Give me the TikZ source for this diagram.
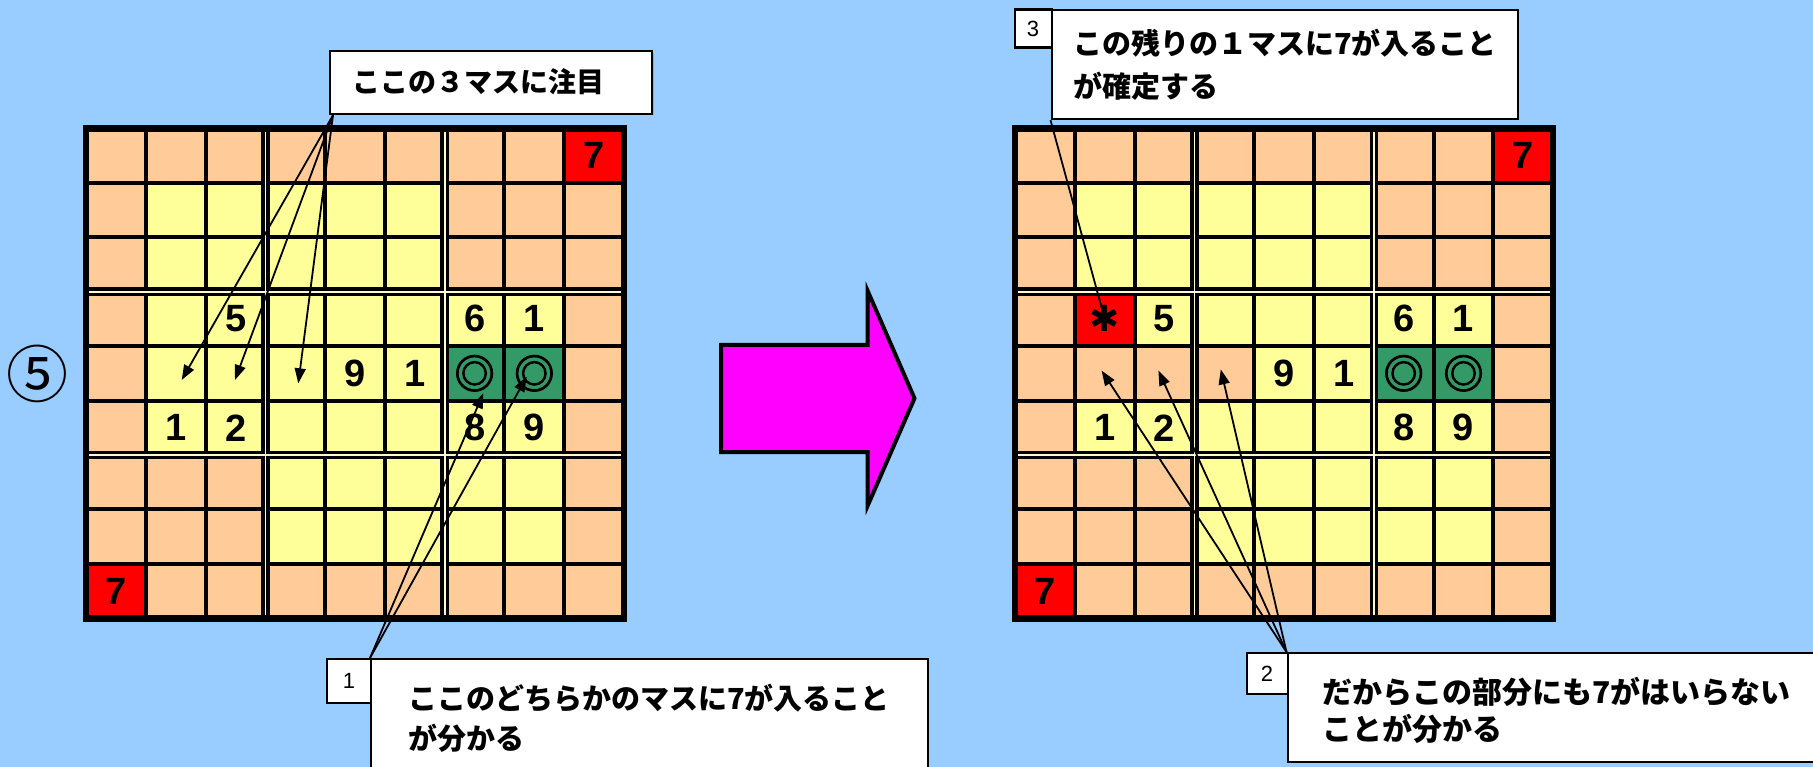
\documentclass[tikz,border=0pt]{standalone}
\usepackage{fontspec}
\usetikzlibrary{arrows.meta}
\newfontfamily\jpfont{Noto Sans CJK JP}
\newfontfamily\symfont{Noto Sans CJK JP}[FakeBold=3]
\newfontfamily\numfont{Liberation Sans}
\newfontfamily\dejafont{DejaVu Sans}
\definecolor{bgblue}{HTML}{99CCFF}
\definecolor{peach}{HTML}{FFCC99}
\definecolor{ylw}{HTML}{FFFF99}
\definecolor{redc}{HTML}{FF0000}
\definecolor{grn}{HTML}{339966}
\definecolor{mag}{HTML}{FF00FF}
\definecolor{sepc}{HTML}{FFF8D0}
\tikzset{
  thinl/.style={line width=4pt},
  sepk/.style={line width=8.5pt},
  sepl/.style={line width=1.8pt, draw=sepc},
  outerl/.style={line width=6.5pt, line join=miter},
  num/.style={font=\numfont\bfseries\fontsize{38pt}{38pt}\selectfont, inner sep=0pt},
  dbl/.style={font=\symfont\fontsize{40pt}{40pt}\selectfont, inner sep=0pt},
  callout/.style={draw=black, fill=white, line width=2.2pt, anchor=north west, inner sep=0pt},
  tagbox/.style={callout, font=\numfont\fontsize{22pt}{22pt}\selectfont},
  jptext/.style 2 args={font=\jpfont\bfseries\fontsize{#1}{#2}\selectfont, align=left, anchor=west, inner sep=0pt},
  pointer/.style={line width=1.8pt, -{Triangle[length=15pt,width=11pt]}},
  plainline/.style={line width=1.8pt},
}
\newcommand\sdkGrid[2]{%
  \fill[peach] (0,0) rectangle (9,9);
  \fill[ylw] (1,1) rectangle (6,3) (1,3) rectangle (8,4) (1,5) rectangle (8,6) (3,6) rectangle (8,8);
  #2
  \fill[redc] (8,0) rectangle (9,1) (0,8) rectangle (1,9);
  \fill[grn] (6,4) rectangle (8,5);
  \foreach \i in {1,2,4,5,7,8} {\draw[thinl] (\i,0) -- (\i,9); \draw[thinl] (0,\i) -- (9,\i);}
  \foreach \i in {3,6} {\draw[sepk] (\i,0) -- (\i,9); \draw[sepk] (0,\i) -- (9,\i);}
  \foreach \i in {3,6} {\draw[sepl] (\i,0) -- (\i,9); \draw[sepl] (0,\i) -- (9,\i);}
  \draw[outerl] (0,0) rectangle (9,9);
  \node[num] (#1-r1c9) at (8.5,0.5) {7};
  \node[num] (#1-r9c1) at (0.5,8.5) {7};
  \node[num] (#1-r4c3) at (2.5,3.5) {5};
  \node[num] (#1-r4c7) at (6.5,3.5) {6};
  \node[num] (#1-r4c8) at (7.5,3.5) {1};
  \node[num] (#1-r5c5) at (4.5,4.5) {9};
  \node[num] (#1-r5c6) at (5.5,4.5) {1};
  \node[num] (#1-r6c2) at (1.5,5.5) {1};
  \node[num] (#1-r6c3) at (2.5,5.5) {2};
  \node[num] (#1-r6c7) at (6.5,5.5) {8};
  \node[num] (#1-r6c8) at (7.5,5.5) {9};
  \node[dbl] (#1-r5c7) at (6.5,4.5) {◎};
  \node[dbl] (#1-r5c8) at (7.5,4.5) {◎};
}
\begin{document}
\begin{tikzpicture}[x=1pt,y=-1pt]
\fill[bgblue] (0,0) rectangle (1813,767);
\useasboundingbox (0,0) rectangle (1813,767);

% left grid
\begin{scope}[shift={(86.2pt,-128.3pt)}, x=59.75pt, y=-54.45pt]
  \sdkGrid{L}{\fill[ylw] (1,4) rectangle (6,5);}
\end{scope}
% right grid
\begin{scope}[shift={(1015pt,-128.3pt)}, x=59.8pt, y=-54.45pt]
  \sdkGrid{R}{\fill[ylw] (4,4) rectangle (6,5); \fill[redc] (1,3) rectangle (2,4);}
  \coordinate (R-starc) at (1.5,3.5);
\end{scope}

\node[font=\jpfont\fontsize{62pt}{62pt}\selectfont, inner sep=0pt] (step5) at (37,374) {⑤};

% big arrow
\draw[line width=4pt, fill=mag, line join=miter] (721,345) -- (867.7,345) -- (867.7,291) -- (914.5,398.3) -- (867.7,505.6) -- (867.7,452) -- (721,452) -- cycle;

% callout boxes
\fill[gray!70] (332,53) rectangle (653.5,115.5);
\node[callout, minimum width=322pt, minimum height=63pt] (boxA) at (329,50) {};
\node[callout, minimum width=466pt, minimum height=109pt] (box3) at (1050.5,9) {};
\node[callout, minimum width=557pt, minimum height=140pt] (box1) at (370,658) {};
\node[callout, minimum width=560pt, minimum height=109pt] (box2) at (1286.5,652) {};
\node[tagbox, minimum width=37pt, minimum height=38pt] (tag3) at (1013.5,8.5) {3};
\node[tagbox, minimum width=44pt, minimum height=43.5pt] (tag1) at (326,658) {1};
\node[tagbox, minimum width=41pt, minimum height=41.5pt] (tag2) at (1245.5,651.5) {2};

\node[jptext={28pt}{28pt}] (txtA) at (352,82) {ここの３マスに注目};
\node[jptext={29pt}{43.5pt}] (txt3) at (1073,65) {この残りの１マスに7が入ること\\が確定する};
\node[jptext={29pt}{40pt}] (txt1) at (408,718) {ここのどちらかのマスに7が入ること\\が分かる};
\node[jptext={30pt}{37pt}] (txt2) at (1322,710) {だからこの部分にも7がはいらない\\ことが分かる};

% pointer targets
\coordinate (tA1) at (181.7,380);
\coordinate (tA2) at (235,380);
\coordinate (tA3) at (298.3,383.3);
\coordinate (t11) at (483.3,393.3);
\coordinate (t12) at (526.7,376.7);
\coordinate (t21) at (1101.6,370.6);
\coordinate (t22) at (1158.4,370.6);
\coordinate (t23) at (1220.8,369.4);

\draw[pointer] ([xshift=4pt]boxA.south west) -- (tA1);
\draw[pointer] ([xshift=4pt]boxA.south west) -- (tA2);
\draw[pointer] ([xshift=4pt]boxA.south west) -- (tA3);
\draw[pointer] (box1.north west) -- (t11);
\draw[pointer] (box1.north west) -- (t12);
\draw[pointer] (box2.north west) -- (t21);
\draw[pointer] (box2.north west) -- (t22);
\draw[pointer] (box2.north west) -- (t23);
\draw[plainline] (box3.south west) -- (R-starc);
\node[font=\dejafont\bfseries\fontsize{36pt}{36pt}\selectfont, inner sep=0pt] (R-star) at (R-starc) {✱};
\end{tikzpicture}
\end{document}
